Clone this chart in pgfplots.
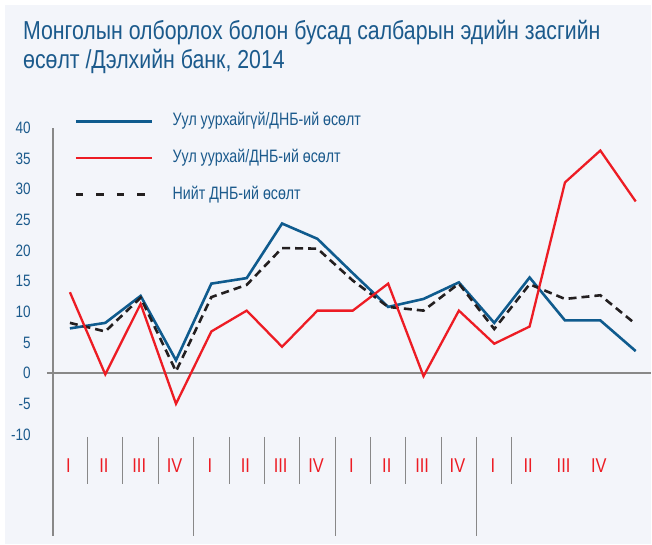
\documentclass[border=0pt]{standalone}
\usepackage{fontspec}
\setmainfont{Liberation Sans}[FakeStretch=0.82]
\newfontfamily\legfont{Liberation Sans}[FakeStretch=0.79]
\usepackage{pgfplots}
\pgfplotsset{compat=1.18}
\definecolor{bgc}{HTML}{F3F5FA}
\definecolor{tblue}{HTML}{1B5A8C}
\definecolor{lblue}{HTML}{0F5B8E}
\definecolor{lred}{HTML}{ED1C24}
\definecolor{lblack}{HTML}{231F20}
\definecolor{agray}{HTML}{888888}
\begin{document}
\begin{tikzpicture}[x=1pt,y=1pt]
\fill[white] (0,0) rectangle (652,545);
\fill[bgc] (5,0) rectangle (652,540);
\node[anchor=base west, inner sep=0pt, text=tblue, font=\fontsize{26}{30}\selectfont] at (23,505.5) {Монголын олборлох болон бусад салбарын эдийн засгийн};
\node[anchor=base west, inner sep=0pt, text=tblue, font=\fontsize{26}{30}\selectfont] at (23,476.5) {өсөлт /Дэлхийн банк, 2014};
\begin{axis}[
  at={(53pt,8.7pt)}, anchor=south west,
  scale only axis, width=599pt, height=408.3pt,
  xmin=-0.48, xmax=16.44, ymin=-26.5, ymax=40,
  axis x line=none,
  axis y line*=left,
  y axis line style={-, draw=agray, line width=1.2pt},
  ytick={-10,-5,0,5,10,15,20,25,30,35,40},
  yticklabels={-10,-5,0,5,10,15,20,25,30,35,40},
  major tick length=0pt,
  yticklabel style={anchor=east, inner sep=0pt, xshift=-22pt, text=tblue, font=\fontsize{16.5}{18}\selectfont},
  clip=false,
]
\draw[agray, line width=1.5pt] (axis cs:-0.65,0) -- (axis cs:16.44,0);
\pgfplotsinvokeforeach{0.5,1.5,2.5,4.5,5.5,6.5,8.5,9.5,10.5,12.5}{
  \draw[agray, line width=1pt] (axis cs:#1,-10.4) -- (axis cs:#1,-18.06);
}
\pgfplotsinvokeforeach{3.5,7.5,11.5}{
  \draw[agray, line width=1pt] (axis cs:#1,-10.4) -- (axis cs:#1,-26.5);
}
\node[text=lred, font=\fontsize{20}{22}\selectfont, inner sep=0pt] at (axis cs:-0.04,-15.05) {I};
\node[text=lred, font=\fontsize{20}{22}\selectfont, inner sep=0pt] at (axis cs:0.96,-15.05) {II};
\node[text=lred, font=\fontsize{20}{22}\selectfont, inner sep=0pt] at (axis cs:1.96,-15.05) {III};
\node[text=lred, font=\fontsize{20}{22}\selectfont, inner sep=0pt] at (axis cs:2.96,-15.05) {IV};
\node[text=lred, font=\fontsize{20}{22}\selectfont, inner sep=0pt] at (axis cs:3.96,-15.05) {I};
\node[text=lred, font=\fontsize{20}{22}\selectfont, inner sep=0pt] at (axis cs:4.96,-15.05) {II};
\node[text=lred, font=\fontsize{20}{22}\selectfont, inner sep=0pt] at (axis cs:5.96,-15.05) {III};
\node[text=lred, font=\fontsize{20}{22}\selectfont, inner sep=0pt] at (axis cs:6.96,-15.05) {IV};
\node[text=lred, font=\fontsize{20}{22}\selectfont, inner sep=0pt] at (axis cs:7.96,-15.05) {I};
\node[text=lred, font=\fontsize{20}{22}\selectfont, inner sep=0pt] at (axis cs:8.96,-15.05) {II};
\node[text=lred, font=\fontsize{20}{22}\selectfont, inner sep=0pt] at (axis cs:9.96,-15.05) {III};
\node[text=lred, font=\fontsize{20}{22}\selectfont, inner sep=0pt] at (axis cs:10.96,-15.05) {IV};
\node[text=lred, font=\fontsize{20}{22}\selectfont, inner sep=0pt] at (axis cs:11.96,-15.05) {I};
\node[text=lred, font=\fontsize{20}{22}\selectfont, inner sep=0pt] at (axis cs:12.96,-15.05) {II};
\node[text=lred, font=\fontsize{20}{22}\selectfont, inner sep=0pt] at (axis cs:13.96,-15.05) {III};
\node[text=lred, font=\fontsize{20}{22}\selectfont, inner sep=0pt] at (axis cs:14.96,-15.05) {IV};
\addplot[lblue, line width=2.6pt] coordinates {
(0,7.3) (1,8.2) (2,12.6) (3,2.1) (4,14.6) (5,15.5) (6,24.4) (7,21.9) (8,16.3)
(9,10.8) (10,12.1) (11,14.8) (12,8.2) (13,15.6) (14,8.6) (15,8.6) (16,3.6)};
\addplot[lblack, line width=2.6pt, dash pattern=on 8pt off 5pt] coordinates {
(0,8.2) (1,6.8) (2,12.3) (3,0.3) (4,12.4) (5,14.4) (6,20.4) (7,20.3) (8,15.1)
(9,10.8) (10,10.2) (11,14.6) (12,7.2) (13,14.5) (14,12.1) (15,12.7) (16,8.0)};
\addplot[lred, line width=2.3pt] coordinates {
(0,13.2) (1,-0.2) (2,11.3) (3,-5.0) (4,6.8) (5,10.2) (6,4.3) (7,10.2) (8,10.2)
(9,14.6) (10,-0.5) (11,10.2) (12,4.8) (13,7.6) (14,31.1) (15,36.3) (16,28.0)};
\end{axis}
\draw[lblue, line width=2.6pt] (76,423.3) -- (152,423.3);
\draw[lred, line width=2.3pt] (76,387) -- (152,387);
\draw[lblack, line width=2.6pt, dash pattern=on 7.5pt off 13pt] (76,350) -- (152,350);
\node[anchor=base west, inner sep=0pt, text=tblue, font=\legfont\fontsize{18}{20}\selectfont] at (172.7,419.3) {Уул уурхайгүй/ДНБ-ий өсөлт};
\node[anchor=base west, inner sep=0pt, text=tblue, font=\legfont\fontsize{18}{20}\selectfont] at (172.7,382.7) {Уул уурхай/ДНБ-ий өсөлт};
\node[anchor=base west, inner sep=0pt, text=tblue, font=\legfont\fontsize{18}{20}\selectfont] at (172.7,345.7) {Нийт ДНБ-ий өсөлт};
\end{tikzpicture}
\end{document}
